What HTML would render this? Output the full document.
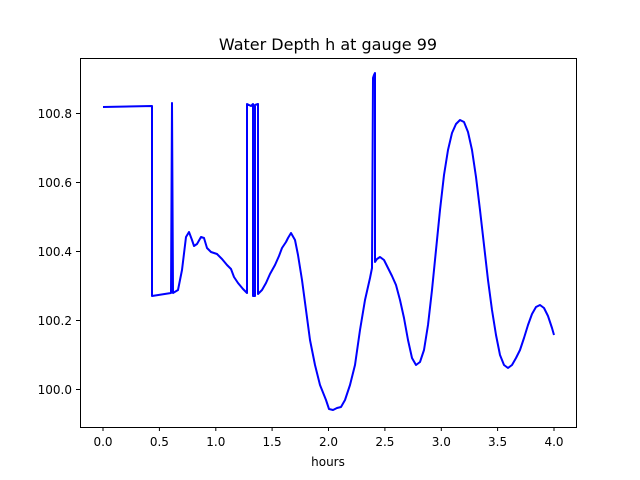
<!DOCTYPE html>
<html><head><meta charset="utf-8"><style>
body{margin:0;background:#fff;}
svg{display:block;font-family:"DejaVu Sans","Liberation Sans",sans-serif;}
</style></head><body>
<svg width="640" height="480" xmlns="http://www.w3.org/2000/svg">
<rect width="640" height="480" fill="#fff"/>
<text x="328" y="50" font-size="16" text-anchor="middle">Water Depth h at gauge 99</text>
<polyline fill="none" stroke="#0000ff" stroke-width="2" stroke-linejoin="round" points="
103,107 152,106 152,296 171,293 172,103 173,293 178,290 182,270 186,237 189,232 192,240 194,246 197,244 201,237 204,238 207,248 211,252 217,254 222,259 227,265 231,269 234,277 238,283 243,289 247,293 247,104 251,106 253,104 253,296 255,296 255,105 258,104 258,294 262,290 266,283 270,274 275,265 279,256 282,248 286,242 288,238 291,233 295,240 298,255 302,280 306,310 310,340 315,365 320,385 326,400 329,409 333,410 337,408 341,407 345,400 350,385 355,365 360,330 365,300 370,278 372,268 373,78 374,75 375,73 375,262 377,259 380,257 384,260 388,268 392,276 396,285 400,300 404,318 408,340 412,358 416,365 420,362 424,350 428,325 432,290 436,250 440,210 444,175 448,150 452,133 456,124 460,120 464,122 468,132 472,150 476,177 480,210 484,245 488,280 492,310 496,335 500,355 504,365 508,368 512,365 516,358 520,350 524,338 528,325 532,314 536,307 540,305 544,308 548,316 552,328 554,335"/>
<rect x="80.5" y="58.5" width="496" height="369" fill="none" stroke="#000" stroke-width="1"/>
<g stroke="#000" stroke-width="1">
<line x1="103" y1="427" x2="103" y2="431"/>
<line x1="159.4" y1="427" x2="159.4" y2="431"/>
<line x1="215.8" y1="427" x2="215.8" y2="431"/>
<line x1="272.1" y1="427" x2="272.1" y2="431"/>
<line x1="328.5" y1="427" x2="328.5" y2="431"/>
<line x1="384.9" y1="427" x2="384.9" y2="431"/>
<line x1="441.3" y1="427" x2="441.3" y2="431"/>
<line x1="497.6" y1="427" x2="497.6" y2="431"/>
<line x1="554" y1="427" x2="554" y2="431"/>
<line x1="76" y1="389.5" x2="80" y2="389.5"/>
<line x1="76" y1="320.5" x2="80" y2="320.5"/>
<line x1="76" y1="251.5" x2="80" y2="251.5"/>
<line x1="76" y1="182.5" x2="80" y2="182.5"/>
<line x1="76" y1="113.5" x2="80" y2="113.5"/>
</g>
<g font-size="12" text-anchor="middle">
<text x="103" y="446">0.0</text><text x="159.4" y="446">0.5</text><text x="215.8" y="446">1.0</text>
<text x="272.1" y="446">1.5</text><text x="328.5" y="446">2.0</text><text x="384.9" y="446">2.5</text>
<text x="441.3" y="446">3.0</text><text x="497.6" y="446">3.5</text><text x="554" y="446">4.0</text>
<text x="328" y="466">hours</text>
</g>
<g font-size="12" text-anchor="end">
<text x="72" y="394">100.0</text><text x="72" y="325">100.2</text><text x="72" y="256">100.4</text>
<text x="72" y="187">100.6</text><text x="72" y="118">100.8</text>
</g>
</svg>
</body></html>
